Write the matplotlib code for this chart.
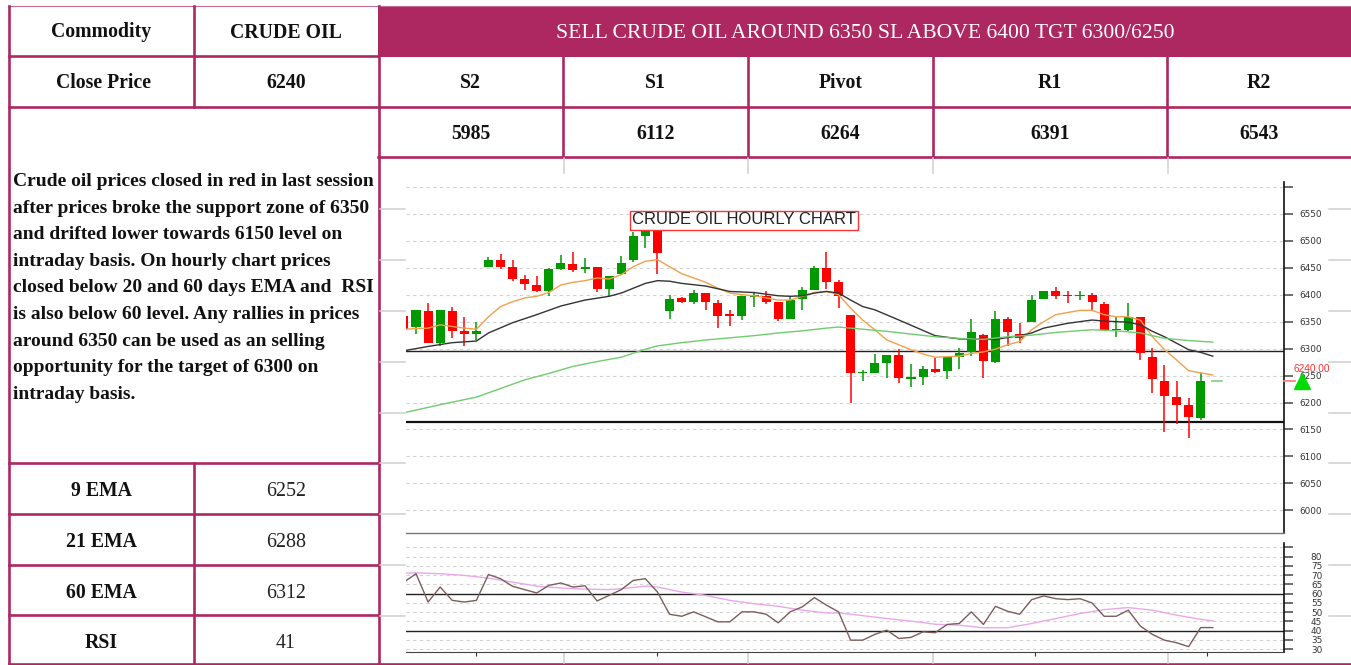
import numpy as np
import matplotlib.pyplot as plt
from matplotlib.patches import Rectangle
from matplotlib.transforms import Bbox, blended_transform_factory

plt.rcParams['font.family'] = ['Liberation Sans', 'DejaVu Sans']

W, H = 1351, 665
MAGENTA = '#ad2860'
SERIF = 'Liberation Serif'
GREEN = '#009a00'
RED = '#ff0000'

# ---- table content
commodity = 'CRUDE OIL'
close_price = '6240'
call_text = 'SELL CRUDE OIL AROUND 6350 SL ABOVE 6400 TGT 6300/6250'
level_names = ['S2', 'S1', 'Pivot', 'R1', 'R2']
level_values = ['5985', '6112', '6264', '6391', '6543']
comment_lines = [
    'Crude oil prices closed in red in last session',
    'after prices broke the support zone of 6350',
    'and drifted lower towards 6150 level on',
    'intraday basis. On hourly chart prices',
    'closed below 20 and 60 days EMA and  RSI',
    'is also below 60 level. Any rallies in prices',
    'around 6350 can be used as an selling',
    'opportunity for the target of 6300 on',
    'intraday basis.',
]
ind_names = ['9 EMA', '21 EMA', '60 EMA', 'RSI']
ind_values = ['6252', '6288', '6312', '41']

# ---- hourly candles
opens = [6360, 6340, 6369, 6311, 6369, 6332, 6328, 6452, 6465, 6451,
         6429, 6418, 6406, 6448, 6457, 6447, 6451, 6411, 6439, 6464,
         6509, 6525, 6370, 6394, 6386, 6404, 6384, 6364, 6361, 6396,
         6398, 6387, 6355, 6392, 6409, 6449, 6423, 6363, 6254, 6254,
         6274, 6288, 6244, 6248, 6263, 6258, 6285, 6293, 6325, 6276,
         6355, 6328, 6349, 6392, 6406, 6399, 6397, 6400, 6383, 6334,
         6335, 6358, 6285, 6239, 6211, 6195, 6171]
highs = [6362, 6372, 6384, 6371, 6377, 6358, 6349, 6470, 6475, 6465,
         6437, 6435, 6449, 6474, 6480, 6468, 6451, 6435, 6471, 6517,
         6530, 6530, 6400, 6395, 6409, 6404, 6390, 6371, 6398, 6403,
         6406, 6387, 6397, 6415, 6454, 6480, 6428, 6363, 6260, 6290,
         6288, 6299, 6272, 6268, 6282, 6287, 6302, 6355, 6328, 6369,
         6358, 6348, 6400, 6407, 6414, 6406, 6407, 6403, 6386, 6359,
         6384, 6359, 6301, 6270, 6239, 6208, 6254]
lows = [6334, 6328, 6310, 6304, 6319, 6304, 6316, 6452, 6447, 6426,
        6409, 6405, 6398, 6445, 6443, 6440, 6405, 6397, 6437, 6460,
        6486, 6439, 6355, 6384, 6383, 6372, 6339, 6342, 6353, 6378,
        6383, 6351, 6355, 6372, 6408, 6410, 6375, 6200, 6240, 6254,
        6246, 6236, 6228, 6232, 6255, 6244, 6262, 6287, 6245, 6274,
        6305, 6310, 6349, 6392, 6392, 6384, 6390, 6371, 6332, 6321,
        6333, 6279, 6217, 6146, 6161, 6135, 6167]
closes = [6336, 6371, 6311, 6371, 6332, 6328, 6332, 6465, 6452, 6429,
          6420, 6406, 6447, 6459, 6446, 6452, 6411, 6435, 6459, 6508,
          6525, 6478, 6392, 6386, 6404, 6386, 6361, 6361, 6398, 6398,
          6387, 6355, 6390, 6409, 6449, 6423, 6398, 6255, 6256, 6274,
          6288, 6245, 6247, 6263, 6257, 6284, 6291, 6330, 6277, 6355,
          6330, 6319, 6390, 6406, 6397, 6397, 6400, 6386, 6335, 6336,
          6358, 6291, 6243, 6212, 6195, 6174, 6239]

ema9 = [6336, 6337, 6338, 6344, 6341, 6338, 6336, 6359, 6378, 6387,
        6394, 6397, 6404, 6418, 6423, 6426, 6431, 6429, 6437, 6452,
        6462, 6465, 6452, 6439, 6431, 6423, 6412, 6403, 6400, 6398,
        6394, 6390, 6390, 6397, 6404, 6406, 6400, 6375, 6353, 6335,
        6316, 6307, 6298, 6290, 6284, 6285, 6286, 6291, 6294, 6299,
        6307, 6313, 6335, 6350, 6363, 6367, 6371, 6371, 6363, 6359,
        6359, 6353, 6322, 6298, 6279, 6259, 6255, 6251]
ema21_x = [0, 2, 4, 6, 7, 9, 11, 13, 15, 17, 18, 19, 20, 21, 22, 23, 25, 27,
           29, 31, 32, 33, 34, 35, 36, 37, 38, 39, 41, 44, 46, 48, 49, 51,
           52, 53, 55, 57, 58, 60, 61, 62, 63, 64, 65, 66, 67]
ema21 = [6296, 6304, 6311, 6314, 6329, 6348, 6363, 6379, 6390, 6397, 6403,
         6412, 6421, 6426, 6425, 6421, 6416, 6406, 6404, 6398, 6397, 6398,
         6403, 6406, 6403, 6390, 6378, 6372, 6353, 6324, 6318, 6317, 6317,
         6324, 6329, 6338, 6347, 6353, 6351, 6349, 6344, 6332, 6322, 6310,
         6298, 6293, 6286]
ema60_x = [0, 3, 6, 8, 10, 12, 14, 16, 18, 20, 21, 23, 25, 27, 29, 31, 33,
           35, 36, 37, 38, 40, 42, 44, 46, 48, 50, 52, 54, 57, 59, 61, 63,
           65, 67]
ema60 = [6181, 6196, 6210, 6226, 6242, 6254, 6267, 6276, 6284, 6299, 6305,
         6311, 6316, 6320, 6324, 6329, 6333, 6338, 6340, 6338, 6336, 6332,
         6327, 6322, 6319, 6317, 6322, 6325, 6330, 6335, 6333, 6329, 6319,
         6315, 6312]

rsi = [66.2, 70.7, 55.4, 63.5, 56.3, 55.4, 56.3, 70.3, 68.0, 63.9,
       62.1, 60.3, 64.4, 65.7, 63.5, 64.2, 56.0, 59.0, 62.1, 67.1,
       68.0, 60.8, 48.8, 47.7, 50.1, 47.4, 44.7, 44.7, 50.1, 50.1,
       48.8, 44.2, 50.1, 52.8, 57.8, 53.7, 50.1, 34.8, 34.8, 37.9,
       40.2, 35.7, 36.3, 39.3, 38.8, 43.3, 43.8, 50.1, 43.3, 53.1,
       50.4, 48.8, 56.7, 58.7, 57.2, 56.7, 57.2, 54.9, 47.7, 47.7,
       51.0, 42.4, 37.9, 34.8, 33.4, 31.3, 41.6, 41.6]
rsi_sig_x = [0, 1, 3, 5, 7, 9, 11, 13, 15, 17, 18, 20, 21, 23, 25, 27, 29,
             31, 33, 35, 36, 37, 40, 42, 44, 46, 48, 50, 52, 54, 56, 58, 60,
             62, 64, 66, 67]
rsi_sig = [71.0, 71.2, 70.7, 69.8, 68.3, 66.2, 64.0, 63.0, 62.4, 62.1, 62.6,
           64.0, 63.5, 60.8, 59.0, 56.3, 54.5, 53.1, 51.0, 49.5, 49.5, 48.8,
           46.5, 45.1, 43.4, 42.9, 41.5, 41.5, 43.8, 46.5, 49.2, 51.3, 52.4,
           51.0, 48.3, 46.1, 45.2]

support_lines = [6296, 6164]
rsi_levels = [60, 40]
last_price = 6240
rsi_xticks = [6, 21, 52.3, 66.5]

fig = plt.figure(figsize=(W / 100, H / 100), dpi=100)
fig.patch.set_facecolor('white')

# pixel-space layer for the table frame and text
tab = fig.add_axes([0, 0, 1, 1])
tab.set_xlim(0, W)
tab.set_ylim(H, 0)
tab.axis('off')


def seg(x0, y0, x1, y1, color=MAGENTA, lw=1.9):
    tab.plot([x0, x1], [y0, y1], color=color, lw=lw, solid_capstyle='projecting')


tab.add_patch(Rectangle((378, 6), W - 378, 50.5, color=MAGENTA, lw=0))
seg(8, 6, W, 6, color='#c46a96', lw=0.8)
seg(9, 6, 9, 664)
seg(193.5, 6, 193.5, 107)
seg(193.5, 462.5, 193.5, 664)
seg(378.5, 6, 378.5, 664)
seg(9, 55.5, 378, 55.5)
seg(9, 107, W, 107)
seg(378, 157, W, 157)
for yy in [462.5, 513.5, 564.5, 615, 664]:
    seg(9, yy, 378, yy)
seg(378, 664, W, 664)
col_edges = [378.5, 563, 748, 933, 1167, W]
for xx in col_edges[1:-1]:
    seg(xx, 56, xx, 157)

# faint grid of the page showing behind the pasted chart
for xx in [564, 748, 933, 1168]:
    seg(xx, 158, xx, 173, color='#cfcfcf', lw=1.1)
    seg(xx, 653, xx, 663, color='#cfcfcf', lw=1.1)
for yy in [209, 260, 311, 362, 413, 463, 514, 565, 616]:
    seg(380, yy, 405, yy, color='#cfcfcf', lw=1.1)
    seg(1329, yy, W, yy, color='#cfcfcf', lw=1.1)

bold = dict(family=SERIF, fontweight='bold', fontsize=14.2, color='#111',
            ha='center', va='baseline')
tab.text(101, 37.5, 'Commodity', **bold)
tab.text(286, 37.5, commodity, **bold)
tab.text(865, 37.5, call_text, family=SERIF, fontsize=15.6, color='white',
         ha='center', va='baseline')
tab.text(103, 88, 'Close Price', **bold)
tab.text(286, 88, close_price, **bold)
for k, (nm, val) in enumerate(zip(level_names, level_values)):
    cx = (col_edges[k] + col_edges[k + 1]) / 2
    tab.text(cx, 88.5, nm, **bold)
    tab.text(cx, 139.3, val, **bold)
for k, line in enumerate(comment_lines):
    tab.text(13, 186 + 26.6 * k, line, family=SERIF, fontweight='bold',
             fontsize=14, color='#111', ha='left', va='baseline')
for k, (nm, val) in enumerate(zip(ind_names, ind_values)):
    yb = 496 + 50.8 * k
    tab.text(101, yb, nm, **bold)
    tab.text(286, yb, val, family=SERIF, fontsize=14.4, color='#222',
             ha='center', va='baseline')

# ---- price panel
x_lim = (0.17, 72.9)
ax = fig.add_axes([406 / W, 1 - 533 / H, 878 / W, 351 / H])
ax.set_xlim(*x_lim)
ax.set_ylim(5958, 6609)

idx = np.arange(len(opens))
o, hi, lo, c = (np.array(v, dtype=float) for v in (opens, highs, lows, closes))
cols = np.where(c >= o, GREEN, RED)
ax.vlines(idx, lo, hi, colors=cols, lw=1.1, zorder=3)
ax.bar(idx, np.maximum(np.abs(c - o), 2.5), bottom=np.minimum(o, c),
       width=0.75, color=cols, lw=0, zorder=4)

ax.plot(np.arange(len(ema9)), ema9, color='#f4a04a', lw=1.0, zorder=5)
ax.plot(ema21_x, ema21, color='#333333', lw=1.0, zorder=5)
ax.plot(ema60_x, ema60, color='#70cc70', lw=1.0, zorder=5)
ax.axhline(support_lines[0], color='#222222', lw=1.0, zorder=2)
ax.axhline(support_lines[1], color='#111111', lw=1.6, zorder=2)
ax.plot([66.95, 67.75], [last_price, last_price], color='#80d080', lw=1.2, zorder=5)

ax.set_yticks(np.arange(6000, 6601, 50))
ax.set_yticklabels([str(v) if v < 6600 else '' for v in range(6000, 6601, 50)],
                   ha='right', family='DejaVu Sans')
ax.yaxis.tick_right()
ax.tick_params(axis='y', length=6.5, width=1.2, color='#555555', labelsize=6.4,
               labelcolor='#333333', pad=21)
ax.set_xticks([])
ax.grid(axis='y', color='#d2d2d2', ls=(0, (3, 3)), lw=0.8)
for s in ['left', 'top']:
    ax.spines[s].set_visible(False)
ax.spines['right'].set_color('#111111')
ax.spines['right'].set_linewidth(1.2)
ax.spines['bottom'].set_color('#777777')
ax.spines['bottom'].set_linewidth(1.0)

bt = blended_transform_factory(ax.transAxes, ax.transData)
ax.plot([1.0, 1.012], [last_price, last_price], color='#ff8080', lw=1.3,
        transform=bt, clip_on=False, zorder=6)
ax.plot([1.0205], [last_price], marker='^', ms=11, color='#00dd00', mec='#00dd00',
        transform=bt, clip_on=False, zorder=6)
lbl = fig.text(1294 / W, 1 - 369 / H, f'{last_price:.2f}', color='#ff3030', fontsize=7.3,
               ha='left', va='center')
lbl.set_clip_box(Bbox([[0, 0], [1329, H]]))
lbl.set_clip_on(True)

fig.text(744 / W, 1 - 220 / H, 'CRUDE OIL HOURLY CHART', ha='center', va='center',
         fontsize=12, color='#222222',
         bbox=dict(boxstyle='square,pad=0.12', fc='white', ec='#ff3333', lw=1))

# ---- RSI panel
rx = fig.add_axes([406 / W, 1 - 652 / H, 878 / W, 109 / H])
rx.set_xlim(*x_lim)
rx.set_ylim(28.4, 87.3)
rx.plot(np.arange(len(rsi)), rsi, color='#7d5c5c', lw=1.0, zorder=4)
rx.plot(rsi_sig_x, rsi_sig, color='#eaa8ea', lw=1.0, zorder=3)
for lvl in rsi_levels:
    rx.axhline(lvl, color='#222222', lw=1.0, zorder=2)
rx.set_yticks(np.arange(30, 86, 5))
rx.set_yticklabels([str(v) if v <= 80 else '' for v in range(30, 86, 5)],
                   ha='right', family='DejaVu Sans')
rx.yaxis.tick_right()
rx.tick_params(axis='y', length=6.5, width=1.2, color='#555555', labelsize=6.4,
               labelcolor='#333333', pad=21)
rx.set_xticks(rsi_xticks)
rx.tick_params(axis='x', length=3, color='#333333', labelbottom=False)
rx.grid(axis='y', color='#d2d2d2', ls=(0, (3, 3)), lw=0.8)
for s in ['left', 'top']:
    rx.spines[s].set_visible(False)
rx.spines['right'].set_color('#111111')
rx.spines['right'].set_linewidth(1.2)
rx.spines['bottom'].set_color('#444444')

fig.savefig('out.png', dpi=100)
